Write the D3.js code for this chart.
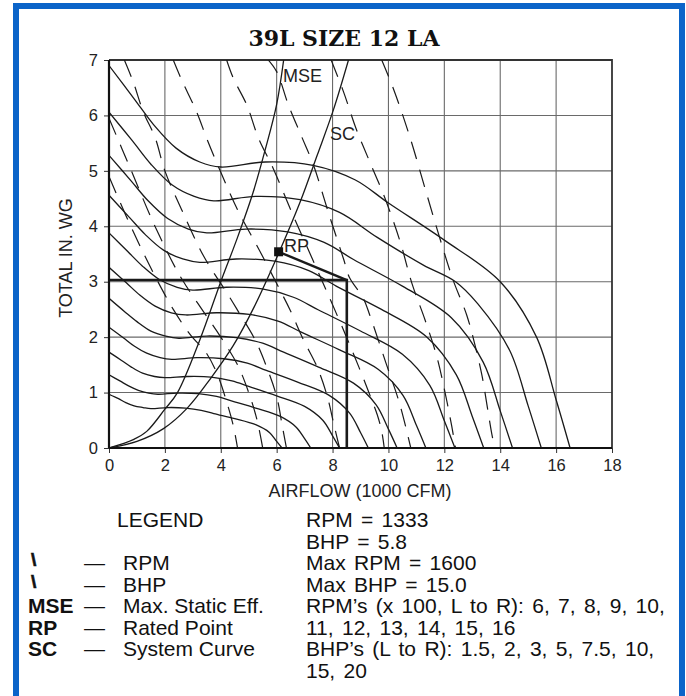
<!DOCTYPE html>
<html><head><meta charset="utf-8">
<script src="https://cdn.jsdelivr.net/npm/d3@7"></script>
<style>body{margin:0;background:#fff}svg{display:block}</style>
</head><body>
<svg id="c" width="686" height="696"></svg>
<script>
// ---------- DATA ----------
const title = "39L SIZE 12 LA";
const xTicks = [0,2,4,6,8,10,12,14,16,18];
const yTicks = [0,1,2,3,4,5,6,7];
const xLabel = "AIRFLOW (1000 CFM)";
const yLabel = "TOTAL IN. WG";

// RPM curves (airflow in 1000 cfm, total static in. wg)
const rpm600  = [[0,0.97],[0.34,0.89],[0.6,0.82],[0.9,0.76],[1.22,0.73],[1.5,0.71],[2.1,0.73],[2.74,0.72],[3.3,0.68],[3.75,0.62],[4.5,0.53],[5.25,0.42],[5.74,0.28],[6.0,0.12],[6.19,0]];
const rpm700  = [[0,1.32],[0.39,1.21],[0.7,1.12],[1.05,1.04],[1.42,0.99],[1.75,0.97],[2.45,0.99],[3.19,0.98],[3.85,0.93],[4.38,0.85],[5.25,0.72],[6.13,0.57],[6.69,0.38],[7.0,0.17],[7.22,0]];
const rpm800  = [[0,1.73],[0.45,1.58],[0.8,1.46],[1.2,1.35],[1.63,1.29],[2.0,1.27],[2.8,1.29],[3.65,1.28],[4.4,1.21],[5.0,1.11],[6.0,0.94],[7.0,0.75],[7.65,0.5],[8.0,0.22],[8.25,0]];
const rpm900  = [[0,2.18],[0.51,1.99],[0.9,1.84],[1.35,1.71],[1.83,1.63],[2.25,1.6],[3.15,1.63],[4.11,1.61],[4.95,1.53],[5.63,1.4],[6.75,1.19],[7.88,0.95],[8.61,0.63],[9.0,0.28],[9.28,0]];
const rpm1000 = [[0,2.7],[0.56,2.46],[1.0,2.28],[1.5,2.11],[2.03,2.02],[2.5,1.98],[3.5,2.02],[4.56,1.99],[5.5,1.89],[6.25,1.73],[7.5,1.46],[8.75,1.17],[9.56,0.78],[10.0,0.34],[10.31,0]];
const rpm1100 = [[0,3.26],[0.62,2.98],[1.1,2.76],[1.65,2.56],[2.23,2.44],[2.75,2.4],[3.85,2.44],[5.02,2.41],[6.05,2.29],[6.88,2.09],[8.25,1.77],[9.63,1.42],[10.52,0.95],[11.0,0.41],[11.34,0]];
const rpm1200 = [[0,3.88],[0.68,3.54],[1.2,3.28],[1.8,3.04],[2.44,2.9],[3.0,2.85],[4.2,2.9],[5.48,2.87],[6.6,2.72],[7.5,2.49],[9.0,2.11],[10.5,1.69],[11.48,1.13],[12.0,0.49],[12.38,0]];
const rpm1300 = [[0,4.56],[0.73,4.16],[1.3,3.85],[1.95,3.57],[2.64,3.41],[3.25,3.35],[4.55,3.41],[5.93,3.37],[7.15,3.2],[8.13,2.92],[9.75,2.5],[11.38,2.0],[12.43,1.32],[13.0,0.57],[13.41,0]];
const rpm1400 = [[0,5.28],[0.79,4.82],[1.4,4.46],[2.1,4.14],[2.84,3.95],[3.5,3.88],[4.9,3.95],[6.39,3.9],[7.7,3.71],[8.75,3.4],[10.5,2.92],[12.25,2.35],[13.39,1.55],[14.0,0.67],[14.44,0]];
const rpm1500 = [[0,6.06],[0.84,5.54],[1.5,5.12],[2.25,4.75],[3.05,4.54],[3.75,4.46],[5.25,4.54],[6.84,4.48],[8.25,4.25],[9.6,3.8],[11.25,3.3],[12.4,3.0],[13.2,2.6],[14.34,1.76],[15.0,0.76],[15.47,0]];
const rpm1600 = [[0,6.9],[0.9,6.3],[1.6,5.83],[2.4,5.41],[3.25,5.16],[4.0,5.07],[5.6,5.16],[7.3,5.1],[8.8,4.84],[10.0,4.42],[12.0,3.75],[14.0,3.0],[15.3,2.0],[16.0,0.87],[16.5,0]];
const rpmSeries = [rpm600,rpm700,rpm800,rpm900,rpm1000,rpm1100,rpm1200,rpm1300,rpm1400,rpm1500,rpm1600];

// BHP lines (dashed), L to R: 1.5, 2, 3, 5, 7.5, 10, 15, 20
const bhp1_5 = [[0,4.9],[0.6,4.2],[1.2,3.55],[1.72,3.03],[2.3,2.5],[2.9,2.05],[3.5,1.7],[3.9,1.3],[4.2,0.85],[4.45,0.4],[4.6,0]];
const bhp2   = [[0,5.95],[0.8,5.0],[1.6,4.05],[2.42,3.21],[2.78,2.91],[3.38,2.46],[4.0,2.0],[4.6,1.5],[5.0,1.0],[5.3,0.5],[5.5,0]];
const bhp3   = [[0.55,7],[0.87,6.6],[1.23,6.06],[1.65,5.6],[2.0,5.0],[2.6,4.3],[3.4,3.45],[4.27,2.76],[4.63,2.46],[5.23,1.95],[5.65,1.45],[6.0,0.93],[6.2,0.4],[6.35,0]];
const bhp5   = [[2.3,7],[2.6,6.64],[3.14,6.06],[3.5,5.58],[3.92,5.07],[4.6,4.3],[5.4,3.55],[6.12,2.85],[6.48,2.49],[6.96,1.95],[7.44,1.47],[7.8,0.95],[8.05,0.42],[8.25,0]];
const bhp7_5 = [[4.21,7],[4.45,6.67],[4.93,6.19],[5.35,5.59],[5.88,5.04],[6.5,4.3],[7.2,3.5],[7.9,2.7],[8.5,2.0],[8.95,1.45],[9.3,1.0],[9.6,0.6],[9.76,0.3],[9.85,0]];
const bhp10  = [[5.65,7.03],[6.0,6.79],[6.42,6.19],[6.9,5.61],[7.32,5.1],[7.85,4.25],[8.4,3.4],[8.6,3.08],[9.1,2.7],[9.35,2.37],[9.9,1.55],[10.4,0.8],[10.8,0]];
const bhp15  = [[7.95,7],[8.39,6.43],[8.85,5.75],[9.3,5.2],[9.88,4.5],[10.42,3.72],[10.84,2.97],[11.31,2.31],[11.73,1.65],[12.03,0.99],[12.27,0.38],[12.4,0]];
const bhp20  = [[9.76,7],[10.2,6.45],[10.78,5.59],[11.3,4.7],[11.8,3.85],[12.3,3.05],[12.8,2.4],[13.1,1.85],[13.35,1.3],[13.55,0.7],[13.7,0.25],[13.8,0]];
const bhpSeries = [bhp1_5,bhp2,bhp3,bhp5,bhp7_5,bhp10,bhp15,bhp20];

// Max static efficiency and system curve
const mseCurve = [[0,0],[0.87,0.15],[1.35,0.3],[2.0,0.7],[2.45,1.0],[3.25,1.95],[4.0,3.0],[4.6,3.8],[5.15,4.6],[5.6,5.4],[6.0,6.2],[6.25,7.0]];
const scCurve  = [[0,0],[1.0,0.12],[1.95,0.35],[2.8,0.72],[3.6,1.23],[4.45,1.85],[5.2,2.55],[6.06,3.5],[6.85,4.45],[7.45,5.28],[8.03,6.1],[8.57,7.0]];

// Rated point and operating point
const ratedPoint = [6.07,3.54];
const operating  = [8.51,3.03];

// Legend texts
const legendLeft = [["MSE","Max. Static Eff."],["RP","Rated Point"],["SC","System Curve"]];
const legendSlash = ["RPM","BHP"];
const legendRight = ["RPM = 1333","BHP = 5.8","Max RPM = 1600","Max BHP = 15.0",
  "RPM\u2019s (x 100, L to R): 6, 7, 8, 9, 10,","11, 12, 13, 14, 15, 16",
  "BHP\u2019s (L to R): 1.5, 2, 3, 5, 7.5, 10,","15, 20"];

// ---------- DRAW ----------
const svg = d3.select("#c");
const sans = "'Liberation Sans', Arial, Helvetica, sans-serif";
const x = d3.scaleLinear().domain([0,18]).range([109,612]);
const y = d3.scaleLinear().domain([0,7]).range([448,60]);

// blue frame
svg.append("rect").attr("x",16).attr("y",6).attr("width",666).attr("height",720)
  .attr("fill","none").attr("stroke","#0b64c9").attr("stroke-width",6);

// title
svg.append("text").attr("x",344).attr("y",46).attr("text-anchor","middle")
  .attr("font-family","'DejaVu Serif', 'Liberation Serif', serif").attr("font-weight","bold")
  .attr("font-size",22).attr("fill","#111").text(title);

// grid
const g = svg.append("g");
g.selectAll(".vg").data(xTicks.slice(1,-1)).join("line")
  .attr("x1",d=>x(d)).attr("x2",d=>x(d)).attr("y1",y(0)).attr("y2",y(7))
  .attr("stroke","#6a6a6a").attr("stroke-width",1.1);
g.selectAll(".hg").data(yTicks.slice(1,-1)).join("line")
  .attr("x1",x(0)).attr("x2",x(18)).attr("y1",d=>y(d)).attr("y2",d=>y(d))
  .attr("stroke","#6a6a6a").attr("stroke-width",1.1);
g.append("path").attr("d",`M${x(0)},${y(7)}H${x(18)}V${y(0)}`).attr("fill","none")
  .attr("stroke","#333").attr("stroke-width",1.8);

const line = d3.line().x(d=>x(d[0])).y(d=>y(d[1])).curve(d3.curveCatmullRom.alpha(0.5));
svg.append("clipPath").attr("id","pc").append("rect")
  .attr("x",x(0)).attr("y",y(7)).attr("width",x(18)-x(0)).attr("height",y(0)-y(7));
const plot = svg.append("g").attr("clip-path","url(#pc)");

plot.selectAll(".bhp").data(bhpSeries).join("path").attr("d",line)
  .attr("fill","none").attr("stroke","#1a1a1a").attr("stroke-width",1.2)
  .attr("stroke-dasharray","18,11");
plot.selectAll(".rpm").data(rpmSeries).join("path").attr("d",line)
  .attr("fill","none").attr("stroke","#1a1a1a").attr("stroke-width",1.3);
plot.append("path").attr("d",line(mseCurve)).attr("fill","none").attr("stroke","#1a1a1a").attr("stroke-width",1.3);
plot.append("path").attr("d",line(scCurve)).attr("fill","none").attr("stroke","#1a1a1a").attr("stroke-width",1.3);

// operating lines
plot.append("path")
  .attr("d",`M${x(0)},${y(operating[1])}H${x(operating[0])}V${y(0)}`)
  .attr("fill","none").attr("stroke","#1a1a1a").attr("stroke-width",2.6);
plot.append("path")
  .attr("d",`M${x(ratedPoint[0])},${y(ratedPoint[1])}L${x(operating[0])},${y(operating[1])}`)
  .attr("fill","none").attr("stroke","#1a1a1a").attr("stroke-width",2.4);
svg.append("rect").attr("x",x(ratedPoint[0])-4.5).attr("y",y(ratedPoint[1])-4.5)
  .attr("width",9).attr("height",9).attr("fill","#111");

const lab = (t,px,py)=>svg.append("text").attr("x",px).attr("y",py).attr("font-family",sans)
  .attr("font-size",18).attr("fill","#222").text(t);
lab("MSE",283,82); lab("SC",330,140); lab("RP",284,252);

// axes
const xAxis = d3.axisBottom(x).tickValues(xTicks).tickSize(5).tickPadding(6).tickFormat(d3.format("d"));
const yAxis = d3.axisLeft(y).tickValues(yTicks).tickSize(5).tickPadding(6).tickFormat(d3.format("d"));
const ax = svg.append("g").attr("transform",`translate(0,${y(0)})`).call(xAxis);
const ay = svg.append("g").attr("transform",`translate(${x(0)},0)`).call(yAxis);
[ax,ay].forEach(a=>{
  a.select(".domain").remove();
  a.selectAll("line").attr("stroke","#333").attr("stroke-width",1);
  a.selectAll("text").attr("font-family",sans).attr("font-size",16.5).attr("fill","#222");
});
svg.append("line").attr("x1",x(0)).attr("x2",x(18)).attr("y1",y(0)).attr("y2",y(0))
  .attr("stroke","#111").attr("stroke-width",2.2);
svg.append("line").attr("x1",x(0)).attr("x2",x(0)).attr("y1",y(0)).attr("y2",y(7))
  .attr("stroke","#111").attr("stroke-width",2.2);

svg.append("text").attr("x",360).attr("y",497).attr("text-anchor","middle")
  .attr("font-family",sans).attr("font-size",18).attr("fill","#222").text(xLabel);
svg.append("text").attr("transform","translate(72,258) rotate(-90)").attr("text-anchor","middle")
  .attr("font-family",sans).attr("font-size",18).attr("fill","#222").text(yLabel);

// legend
const lg = svg.append("g").attr("font-family",sans).attr("font-size",21).attr("fill","#111");
const base = 527, step = 21.5;
lg.append("text").attr("x",117).attr("y",base).text("LEGEND");
legendSlash.forEach((t,i)=>{
  const yy = base + (i+2)*step;
  lg.append("text").attr("x",31).attr("y",yy-4).attr("font-weight","bold").attr("font-size",19)
    .attr("stroke","#111").attr("stroke-width",0.6).text("\\");
  lg.append("text").attr("x",84).attr("y",yy).text("\u2014");
  lg.append("text").attr("x",123).attr("y",yy).text(t);
});
legendLeft.forEach((r,i)=>{
  const yy = base + (i+4)*step;
  lg.append("text").attr("x",28).attr("y",yy).attr("font-weight","bold").text(r[0]);
  lg.append("text").attr("x",84).attr("y",yy).text("\u2014");
  lg.append("text").attr("x",123).attr("y",yy).text(r[1]);
});
legendRight.forEach((t,i)=>{
  lg.append("text").attr("x",306).attr("y",base+i*step).attr("word-spacing",2.5).text(t);
});
</script>
</body></html>
